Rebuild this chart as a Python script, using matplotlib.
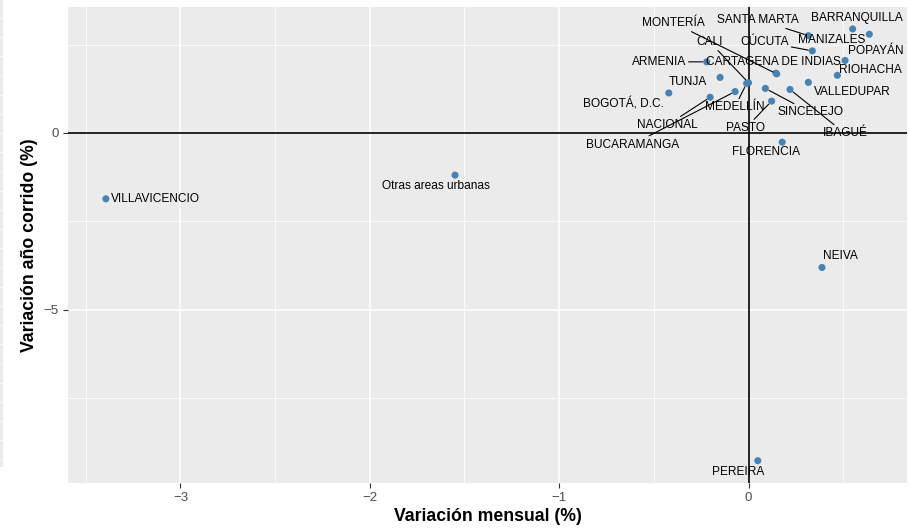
import numpy as np
import matplotlib.pyplot as plt
from matplotlib.patches import Rectangle

plt.rcParams['font.family'] = ['Liberation Sans', 'DejaVu Sans']

# datos: variacion mensual (x) y variacion año corrido (y)
ciudades = ['MONTERÍA', 'SANTA MARTA', 'BARRANQUILLA', 'MANIZALES', 'POPAYÁN',
            'CÚCUTA', 'CALI', 'ARMENIA', 'CARTAGENA DE INDIAS', 'RIOHACHA',
            'TUNJA', 'VALLEDUPAR', 'BOGOTÁ, D.C.', 'MEDELLÍN', 'SINCELEJO',
            'NACIONAL', 'PASTO', 'IBAGUÉ', 'BUCARAMANGA', 'FLORENCIA',
            'VILLAVICENCIO', 'Otras areas urbanas', 'NEIVA', 'PEREIRA']
var_mensual = [0.149, 0.316, 0.550, 0.510, 0.638,
               0.337, 0.000, -0.221, 0.145, 0.469,
               -0.150, 0.316, -0.421, -0.010, 0.089,
               -0.203, 0.122, 0.219, -0.071, 0.178,
               -3.394, -1.550, 0.388, 0.049]
var_anual = [1.67, 2.75, 2.94, 2.05, 2.79,
             2.32, 1.42, 2.01, 1.69, 1.63,
             1.57, 1.43, 1.13, 1.40, 1.26,
             1.01, 0.90, 1.23, 1.17, -0.26,
             -1.86, -1.19, -3.80, -9.26]

# posicion de las etiquetas (pixeles respecto al punto) y si llevan segmento
lab_dx = [-103, -50, 4, -13, 6, -48, -39, -48, -3, 33, -32, 44, -45, -12, 45,
          -43, -26, 55, -103, -16, 50, -19, 18, -20]
lab_dy = [51, 16, 11, 20, -17, 9, 41, 0, 11, 5, -5, -10, -11, -24, -24,
          -28, -27, -44, -53, -10, 0, -11, 11, -11]
segmento = ['MONTERÍA', 'SANTA MARTA', 'CÚCUTA', 'CALI', 'ARMENIA', 'MEDELLÍN',
            'SINCELEJO', 'NACIONAL', 'PASTO', 'IBAGUÉ', 'BUCARAMANGA']

fig = plt.figure(figsize=(9.1, 5.3), dpi=100)
ax = fig.add_axes([68 / 910, 47 / 530, 839 / 910, 476 / 530])
ax.set_facecolor('#EBEBEB')

ax.set_xlim(-3.594, 0.837)
ax.set_ylim(-9.89, 3.56)
ax.set_xticks([-3, -2, -1, 0])
ax.set_xticks([-3.5, -2.5, -1.5, -0.5, 0.5], minor=True)
ax.set_yticks([-5, 0])
ax.set_yticks([-7.5, -2.5, 2.5], minor=True)
ax.grid(which='major', color='white', lw=1.1)
ax.grid(which='minor', color='white', lw=0.55)
ax.set_axisbelow(True)
for s in ax.spines.values():
    s.set_visible(False)
ax.tick_params(which='major', length=3.5, width=0.8, color='#333333',
               labelsize=9.5, labelcolor='#4D4D4D', pad=3)
ax.tick_params(which='minor', length=0)

ax.axhline(0, color='black', lw=1.2, zorder=1.5)
ax.axvline(0, color='black', lw=1.2, zorder=1.5)

ax.scatter(var_mensual, var_anual, s=26, color='#4682B4', zorder=3,
           edgecolors='none')

for i, c in enumerate(ciudades):
    props = None
    if c in segmento:
        props = dict(arrowstyle='-', color='black', lw=0.8,
                     shrinkA=0, shrinkB=3)
    ax.annotate(c, (var_mensual[i], var_anual[i]),
                xytext=(lab_dx[i], lab_dy[i]), textcoords='offset pixels',
                ha='center', va='center', fontsize=8.6, color='black',
                arrowprops=props, zorder=4)

ax.set_xlabel('Variación mensual (%)', fontsize=12.7, fontweight='bold', labelpad=3)
ax.set_ylabel('Variación año corrido (%)', fontsize=12.7, fontweight='bold', labelpad=4)

# franja gris del borde izquierdo
fig.add_artist(Rectangle((0, 63 / 530), 3 / 910, 467 / 530,
                         transform=fig.transFigure, color='#EBEBEB', lw=0))
for yy in np.arange(18, 462, 19.2):
    fig.add_artist(plt.Line2D([0, 3 / 910], [1 - yy / 530, 1 - yy / 530],
                              transform=fig.transFigure, color='white', lw=0.6))

fig.savefig('out.png', dpi=100)
